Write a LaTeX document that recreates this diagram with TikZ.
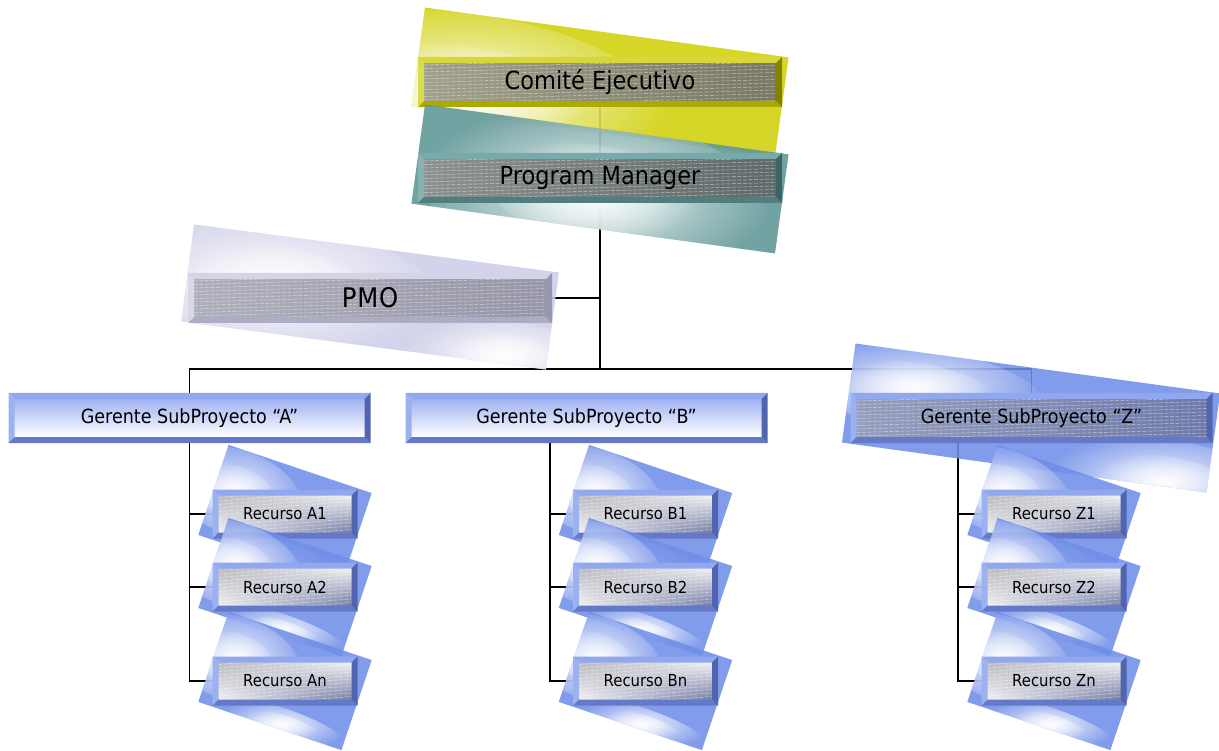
\documentclass[tikz,border=0pt]{standalone}
\usepackage{fontspec}
\setmainfont{DejaVu Sans}[FakeStretch=0.9]
\usetikzlibrary{fadings,calc,shadings}
\tikzfading[name=glow, inner color=transparent!0, outer color=transparent!100]

\definecolor{ylw}{RGB}{208,208,10}
\definecolor{ylwL}{RGB}{215,215,60}
\definecolor{ylwD}{RGB}{170,170,0}
\definecolor{ylwR}{RGB}{130,130,0}
\definecolor{tea}{RGB}{95,150,150}
\definecolor{teaL}{RGB}{120,170,170}
\definecolor{teaD}{RGB}{80,125,125}
\definecolor{teaR}{RGB}{60,100,100}
\definecolor{lav}{RGB}{205,205,232}
\definecolor{lavL}{RGB}{212,212,230}
\definecolor{lavD}{RGB}{172,172,196}
\definecolor{lavR}{RGB}{150,150,175}
\definecolor{blu}{RGB}{112,142,232}
\definecolor{bluL}{RGB}{145,168,238}
\definecolor{bluD}{RGB}{100,122,200}
\definecolor{bluR}{RGB}{80,100,175}
\definecolor{ceA}{RGB}{160,160,140}
\definecolor{ceM}{RGB}{236,236,228}
\definecolor{ceB}{RGB}{120,120,100}
\definecolor{pmA}{RGB}{140,145,145}
\definecolor{pmM}{RGB}{232,232,232}
\definecolor{pmB}{RGB}{95,105,105}
\definecolor{pmoA}{RGB}{175,175,188}
\definecolor{pmoM}{RGB}{240,240,245}
\definecolor{pmoB}{RGB}{150,150,168}
\definecolor{gzA}{RGB}{150,158,190}
\definecolor{gzM}{RGB}{240,240,245}
\definecolor{gzB}{RGB}{110,122,170}
\definecolor{reA}{RGB}{185,185,190}
\definecolor{reW}{RGB}{242,242,244}
\definecolor{reB}{RGB}{115,125,165}
\definecolor{gaT}{RGB}{160,178,242}

\newcommand\bevelpic[6]{%
  \path (path picture bounding box.north west) coordinate (NW)
        (path picture bounding box.north east) coordinate (NE)
        (path picture bounding box.south west) coordinate (SW)
        (path picture bounding box.south east) coordinate (SE);
  \path ([shift={(#5,#5)}]NW) coordinate (nw)
        ([shift={(-#5,#5)}]NE) coordinate (ne)
        ([shift={(#5,-#5)}]SW) coordinate (sw)
        ([shift={(-#5,-#5)}]SE) coordinate (se);
  \shade[#4] (nw) rectangle (se);
  \ifnum#6=1
    \begin{scope}
      \clip (nw) rectangle (se);
      \foreach \k in {2,5.5,...,62} \draw[texture] ($(nw)+(0,\k)$) -- ($(ne)+(0,\k-10)$);
    \end{scope}
  \fi
  \fill[#1] (NW) -- (NE) -- (ne) -- (nw) -- cycle;
  \fill[#1!90!white] (NW) -- (nw) -- (sw) -- (SW) -- cycle;
  \fill[#2] (SW) -- (sw) -- (se) -- (SE) -- cycle;
  \fill[#3] (NE) -- (SE) -- (se) -- (ne) -- cycle;
}

\newcommand\bgshape[8]{%
  \begin{scope}[shift={(#2,#3)}, rotate=#4]
    \fill[#7, fill opacity=0.88] (-#5/2,-#6/2) rectangle (#5/2,#6/2);
    \coordinate (#1) at (0,0);
    \begin{scope}
      \clip (-#5/2,-#6/2) rectangle (#5/2,#6/2);
      \foreach \gx/\gy/\rx/\ry in {#8}{
        \fill[white, fill opacity=0.9, path fading=glow] (\gx,\gy) ellipse [x radius=\rx, y radius=\ry];
        \fill[white, fill opacity=0.8, path fading=glow] (\gx,\gy) ellipse [x radius=0.6*\rx, y radius=0.6*\ry];
      }
    \end{scope}
  \end{scope}}

\tikzset{
  texture/.style={white, line width=0.5pt, dash pattern=on 4pt off 1.5pt, opacity=0.55},
  conn/.style={black, line width=1.7pt},
  box/.style={inner sep=0pt, outer sep=0pt, text=black},
  bigbox/.style={box, minimum width=364pt, minimum height=50pt, font=\fontsize{25}{30}\selectfont},
  midbox/.style={box, minimum width=362pt, minimum height=50pt, font=\fontsize{19.5}{24}\selectfont},
  resbox/.style={box, minimum width=145pt, minimum height=49pt, font=\fontsize{16.5}{20}\selectfont,
    path picture={\bevelpic{bluL}{bluD}{bluR}{upper left=reA, upper right=reW, lower left=reW, lower right=reB}{6}{1}}},
}

\newcommand\recurso[4]{% name, x, y, text
  \bgshape{s#1}{#2}{#3}{-18.6}{151}{95}{blu}{-55/-5/70/42, 10/42/70/16}
  \node[resbox] (#1) at (#2,#3) {#4};
}

\begin{document}
\begin{tikzpicture}[x=1pt, y=-1pt]
\useasboundingbox (0,0) rectangle (1219,751);
\coordinate (busy) at (0,369);
\coordinate (sb) at (550,443);
\coordinate (sz) at (958,443);

% placeholders (same names, redrawn later) so that connectors can be drawn first
\path (600,82) node[bigbox] (ce) {}
      (600,178) node[bigbox] (pm) {}
      (370,298) node[bigbox] (pmo) {}
      (189.5,418) node[midbox] (ga) {}
      (586.5,418) node[midbox] (gb) {}
      (1031.5,418) node[midbox] (gz) {}
      (285,514) node[resbox,path picture={}] (ra1) {}
      (285,587) node[resbox,path picture={}] (ra2) {}
      (285,681) node[resbox,path picture={}] (ra3) {}
      (645.5,514) node[resbox,path picture={}] (rb1) {}
      (645.5,587) node[resbox,path picture={}] (rb2) {}
      (645.5,681) node[resbox,path picture={}] (rb3) {}
      (1054,514) node[resbox,path picture={}] (rz1) {}
      (1054,587) node[resbox,path picture={}] (rz2) {}
      (1054,681) node[resbox,path picture={}] (rz3) {};

% connectors
\draw[conn] (ce.south) -- (pm.north);
\draw[conn] (pm.south) -- (pm.south |- busy);
\draw[conn] (pmo.east) -- (pmo.east -| pm.south);
\draw[conn] (ga.north) -- (ga.north |- busy) -- (gz.north |- busy) -- (gz.north);
\draw[conn] (ga.south) |- (ra3.west);
\draw[conn] (ga.south |- ra1.west) -- (ra1.west);
\draw[conn] (ga.south |- ra2.west) -- (ra2.west);
\draw[conn] (sb) |- (rb3.west);
\draw[conn] (sb |- rb1.west) -- (rb1.west);
\draw[conn] (sb |- rb2.west) -- (rb2.west);
\draw[conn] (sz) |- (rz3.west);
\draw[conn] (sz |- rz1.west) -- (rz1.west);
\draw[conn] (sz |- rz2.west) -- (rz2.west);

% top
\bgshape{sce}{600}{82}{-7.8}{367}{100}{ylw}{-130/30/200/80}
\node[bigbox, path picture={\bevelpic{ylwL}{ylwD}{ylwR}{left color=ceA, middle color=ceM, right color=ceB}{6}{1}}] (ce) at (600,82) {Comité Ejecutivo};
\bgshape{spm}{600}{179}{-7.8}{367}{100}{tea}{-5/15/175/80}
\node[bigbox, path picture={\bevelpic{teaL}{teaD}{teaR}{left color=pmA, middle color=pmM, right color=pmB}{6}{1}}] (pm) at (600,178) {Program Manager};
\bgshape{spmo}{370}{297}{-7.5}{368}{98}{lav}{-100/0/170/65, 140/40/100/35}
\node[bigbox, path picture={\bevelpic{lavL}{lavD}{lavR}{left color=pmoA, middle color=pmoM, right color=pmoB}{6}{1}}] (pmo) at (370,298) {\fontsize{27}{32}\selectfont\addfontfeature{LetterSpace=3}PMO};

% gerentes
\node[midbox, path picture={\bevelpic{bluL}{bluD}{bluR}{top color=gaT, bottom color=white}{6}{0}}] (ga) at (189.5,418) {Gerente SubProyecto “A”};
\node[midbox, path picture={\bevelpic{bluL}{bluD}{bluR}{top color=gaT, bottom color=white}{6}{0}}] (gb) at (586.5,418) {Gerente SubProyecto “B”};
\bgshape{sgz}{1031}{418}{-7.8}{368}{100}{blu}{-120/-15/130/40, 140/45/120/42}
\node[midbox, path picture={\bevelpic{bluL}{bluD}{bluR}{left color=gzA, middle color=gzM, right color=gzB}{6}{1}}] (gz) at (1031.5,418) {Gerente SubProyecto “Z”};

% recursos
\recurso{ra1}{285}{514}{Recurso A1}
\recurso{ra2}{285}{587}{Recurso A2}
\recurso{ra3}{285}{681}{Recurso An}
\recurso{rb1}{645.5}{514}{Recurso B1}
\recurso{rb2}{645.5}{587}{Recurso B2}
\recurso{rb3}{645.5}{681}{Recurso Bn}
\recurso{rz1}{1054}{514}{Recurso Z1}
\recurso{rz2}{1054}{587}{Recurso Z2}
\recurso{rz3}{1054}{681}{Recurso Zn}
\end{tikzpicture}
\end{document}
